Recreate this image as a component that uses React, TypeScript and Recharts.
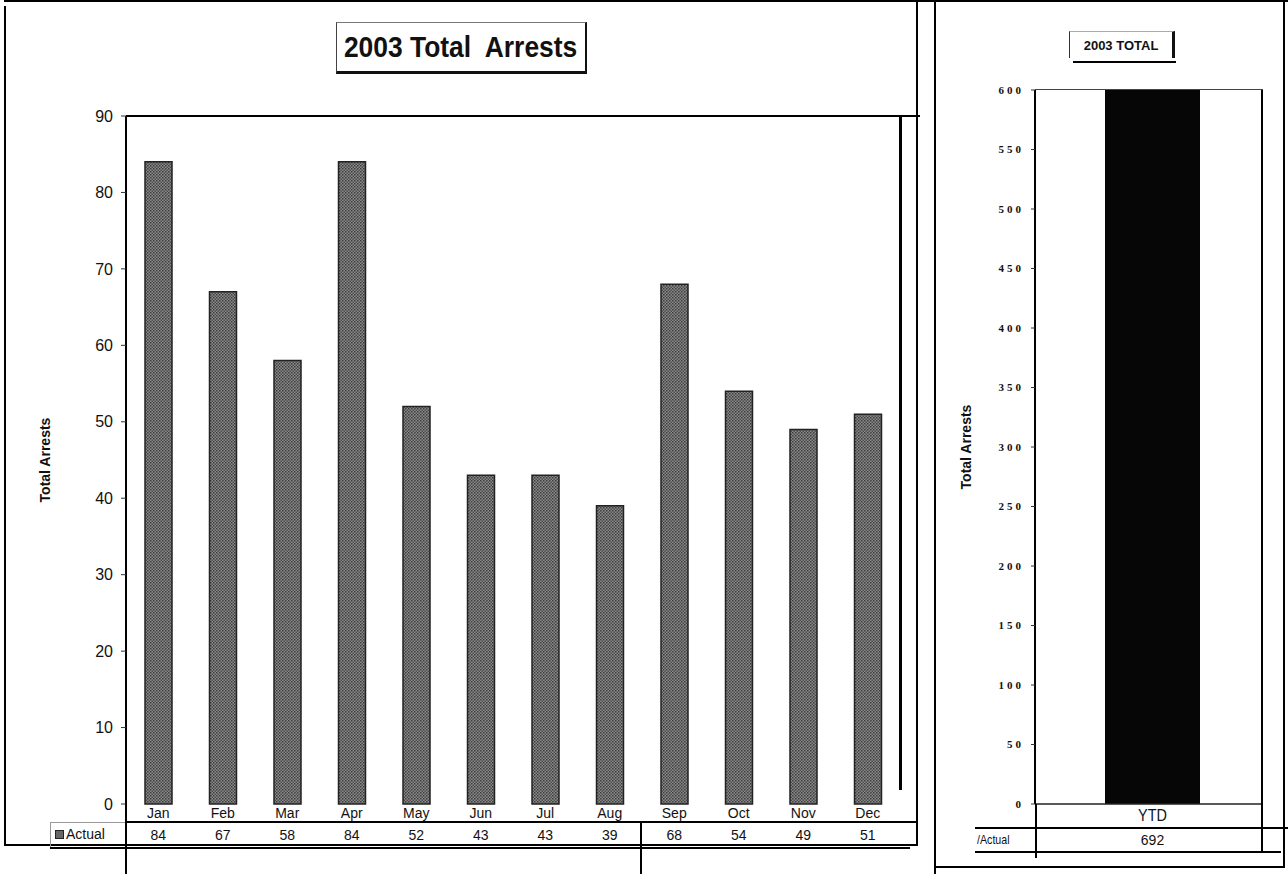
import React from 'react';
import { BarChart, Bar, XAxis, YAxis } from 'recharts';

const MONTHS = ['Jan', 'Feb', 'Mar', 'Apr', 'May', 'Jun', 'Jul', 'Aug', 'Sep', 'Oct', 'Nov', 'Dec'];
const ACTUAL = [84, 67, 58, 84, 52, 43, 43, 39, 68, 54, 49, 51];
const MONTH_TICKS = [0, 10, 20, 30, 40, 50, 60, 70, 80, 90];

const YTD_LABELS = ['YTD'];
const YTD_ACTUAL = [692];
const YTD_TICKS = [0, 50, 100, 150, 200, 250, 300, 350, 400, 450, 500, 550, 600];

const monthData = MONTHS.map((month, i) => ({ month, actual: ACTUAL[i] }));
const ytdData = YTD_LABELS.map((name, i) => ({ name, actual: YTD_ACTUAL[i] }));

const SANS = '"Liberation Sans", Arial, sans-serif';
const SERIF = '"Liberation Serif", "Times New Roman", serif';

// month name on the first row, the month's count in the data-table row under it
const MonthTick = (props: any) => {
  const { x, y, payload } = props;
  return (
    <g>
      <text x={x} y={y + 14} textAnchor="middle" fontSize={14} fontFamily={SANS} fill="#111">
        {payload.value}
      </text>
      <text x={x} y={y + 36} textAnchor="middle" fontSize={14} fontFamily={SANS} fill="#111">
        {ACTUAL[payload.index]}
      </text>
    </g>
  );
};

const YtdTick = (props: any) => {
  const { x, y, payload } = props;
  return (
    <g>
      <text
        x={x}
        y={y + 17}
        textAnchor="middle"
        fontSize={17}
        fontFamily={SANS}
        fill="#111"
        transform={`translate(${x} 0) scale(0.85 1) translate(${-x} 0)`}
      >
        {payload.value}
      </text>
      <text x={x} y={y + 41} textAnchor="middle" fontSize={14} fontFamily={SANS} fill="#111">
        {YTD_ACTUAL[payload.index]}
      </text>
    </g>
  );
};

const line = (left: number, top: number, width: number, height: number, color = '#000') => (
  <div style={{ position: 'absolute', left, top, width, height, background: color }} />
);

export default function App() {
  return (
    <div
      style={{
        position: 'absolute',
        left: 0,
        top: 0,
        width: 1288,
        height: 874,
        background: '#fff',
        overflow: 'hidden',
        fontFamily: SANS,
      }}
    >
      {/* monthly chart */}
      <div style={{ position: 'absolute', left: 0, top: 0 }}>
        <BarChart
          width={920}
          height={874}
          data={monthData}
          margin={{ top: 116, right: 20, bottom: 10, left: 20 }}
          barSize={27}
        >
          <defs>
            <pattern id="halftone" width="3" height="3" patternUnits="userSpaceOnUse">
              <rect width="3" height="3" fill="#8a8a8a" />
              <rect width="1.5" height="1.5" fill="#3c3c3c" />
              <rect x="1.5" y="1.5" width="1.5" height="1.5" fill="#4c4c4c" />
            </pattern>
          </defs>
          <XAxis
            dataKey="month"
            height={60}
            axisLine={false}
            tickLine={false}
            tickSize={0}
            tickMargin={0}
            interval={0}
            tick={<MonthTick />}
          />
          <YAxis
            width={106}
            domain={[0, 90]}
            ticks={MONTH_TICKS}
            interval={0}
            axisLine={{ stroke: '#000', strokeWidth: 2 }}
            tickLine={{ stroke: '#333' }}
            tickSize={5}
            tickMargin={8}
            tick={{ fontSize: 16, fontFamily: SANS, fill: '#111' }}
            label={{
              value: 'Total Arrests',
              angle: -90,
              position: 'insideLeft',
              offset: 25,
              style: { textAnchor: 'middle', fontSize: 14, fontWeight: 700, fontFamily: SANS, fill: '#111' },
            }}
          />
          <Bar dataKey="actual" fill="url(#halftone)" stroke="#222" strokeWidth={1.5} isAnimationActive={false} />
        </BarChart>
      </div>

      {/* year-to-date chart */}
      <div style={{ position: 'absolute', left: 936, top: 0 }}>
        <BarChart
          width={352}
          height={874}
          data={ytdData}
          margin={{ top: 90, right: 26, bottom: 10, left: 10 }}
          barSize={95}
        >
          <XAxis
            dataKey="name"
            height={60}
            axisLine={{ stroke: '#222', strokeWidth: 1.5 }}
            tickLine={false}
            tickSize={0}
            tickMargin={0}
            padding={{ left: 8, right: 0 }}
            tick={<YtdTick />}
          />
          <YAxis
            width={89}
            domain={[0, 600]}
            allowDataOverflow
            ticks={YTD_TICKS}
            interval={0}
            axisLine={{ stroke: '#000', strokeWidth: 2 }}
            tickLine={{ stroke: '#333' }}
            tickSize={4}
            tickMargin={7}
            tick={{ fontSize: 11, fontFamily: SERIF, fontWeight: 700, fill: '#111', letterSpacing: 3 }}
            label={{
              value: 'Total Arrests',
              angle: -90,
              position: 'insideLeft',
              offset: 20,
              style: { textAnchor: 'middle', fontSize: 14, fontWeight: 700, fontFamily: SANS, fill: '#111' },
            }}
          />
          <Bar dataKey="actual" fill="#060606" isAnimationActive={false} />
        </BarChart>
      </div>

      {/* page frame */}
      {line(4, 0, 1284, 2)}
      {line(4, 6, 2, 840)}
      {line(4, 844, 914, 2)}
      {line(916, 0, 2, 846)}
      {line(934, 0, 2, 874)}
      {line(1283, 0, 2, 868)}
      {line(934, 866, 351, 2)}

      {/* monthly plot frame and data table */}
      {line(126, 115, 794, 2)}
      {line(899, 116, 3, 674)}
      {line(125, 804, 2, 70)}
      {line(640, 822, 2, 52)}
      {line(126, 821, 790, 2)}
      {line(50, 847, 860, 2)}
      <div
        style={{
          position: 'absolute',
          left: 50,
          top: 822,
          width: 75,
          height: 25,
          borderTop: '1px solid #999',
          borderLeft: '1px solid #999',
          boxSizing: 'border-box',
        }}
      />
      <div
        style={{
          position: 'absolute',
          left: 55,
          top: 830,
          width: 9,
          height: 9,
          border: '1px solid #222',
          background: '#666',
          boxSizing: 'border-box',
        }}
      />
      <div style={{ position: 'absolute', left: 66, top: 826, fontSize: 14, color: '#111' }}>Actual</div>

      {/* YTD plot frame and data table */}
      {line(1035, 89, 228, 1, '#444')}
      {line(1261, 90, 2, 762)}
      {line(1035, 804, 2, 54)}
      {line(975, 827, 313, 2)}
      {line(975, 851, 306, 2)}
      <div
        style={{
          position: 'absolute',
          left: 977,
          top: 832,
          fontSize: 13,
          color: '#111',
          transform: 'scaleX(0.82)',
          transformOrigin: 'left center',
        }}
      >
        /Actual
      </div>

      {/* titles */}
      <div
        style={{
          position: 'absolute',
          left: 336,
          top: 22,
          width: 251,
          height: 52,
          borderTop: '1px solid #777',
          borderLeft: '1px solid #444',
          borderRight: '2px solid #111',
          borderBottom: '3px solid #111',
          boxSizing: 'border-box',
          display: 'flex',
          alignItems: 'center',
          justifyContent: 'center',
        }}
      >
        <span
          style={{
            display: 'inline-block',
            fontWeight: 700,
            fontSize: 30,
            whiteSpace: 'pre',
            color: '#111',
            transform: 'scaleX(0.88)',
          }}
        >
          2003 Total  Arrests
        </span>
      </div>
      <div
        style={{
          position: 'absolute',
          left: 1069,
          top: 31,
          width: 106,
          height: 27,
          borderLeft: '1px solid #333',
          borderRight: '3px solid #111',
          borderTop: '1px solid #aaa',
          boxSizing: 'border-box',
          display: 'flex',
          alignItems: 'center',
          justifyContent: 'center',
          fontWeight: 700,
          fontSize: 13,
          color: '#111',
        }}
      >
        2003 TOTAL
      </div>
      {line(1073, 61, 103, 2)}
    </div>
  );
}
